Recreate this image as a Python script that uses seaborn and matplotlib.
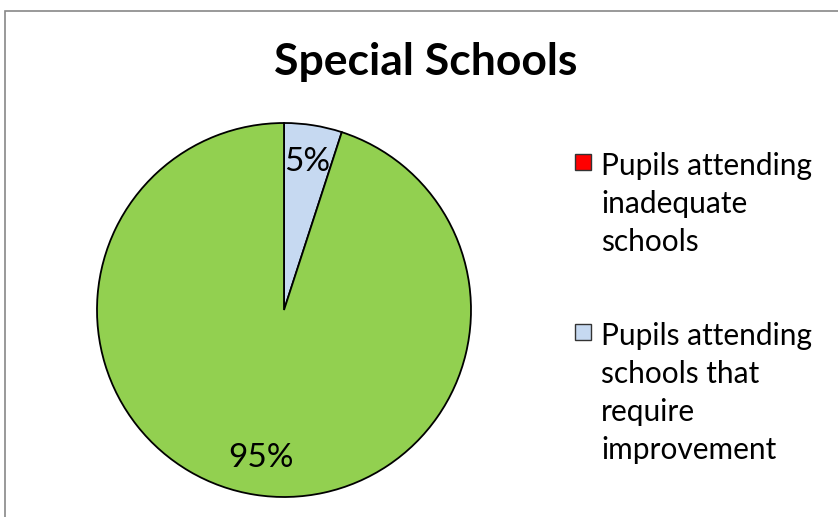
import matplotlib
matplotlib.use("Agg")
import matplotlib.pyplot as plt
from matplotlib.patches import Rectangle
import seaborn as sns

categories = [
    "Pupils attending\ninadequate\nschools",
    "Pupils attending\nschools that\nrequire\nimprovement",
    "Pupils attending\ngood or better\nschools",
]
values = [0, 5, 95]
colors = ["#FF0000", "#C6D9F1", "#92D050"]
title = "Special Schools"

sns.set_theme(style="white")
plt.rcParams["font.family"] = ["Lato", "DejaVu Sans"]
plt.rcParams["text.color"] = "black"

W, H = 838, 517
fig = plt.figure(figsize=(W / 100, H / 100), dpi=100)
fig.patch.set_facecolor("white")

# outer chart border (extends beyond right/bottom of the crop)
fig.patches.append(Rectangle((5 / W, -0.1), 1.2, 1 - 11 / H + 0.1,
                             transform=fig.transFigure, fill=False,
                             edgecolor="#888888", linewidth=1.2))

cx, cy, r = 284, 310, 187
ax = fig.add_axes([(cx - r) / W, (H - cy - r) / H, 2 * r / W, 2 * r / H])

def fmt(p):
    return "" if p < 0.5 else f"{p:.0f}%"

wedges, texts, autotexts = ax.pie(
    values, colors=colors, startangle=90, counterclock=False,
    autopct=fmt, pctdistance=0.8,
    wedgeprops=dict(edgecolor="black", linewidth=1.3),
    textprops=dict(fontsize=24, color="black"),
)
ax.set_xlim(-1, 1)
ax.set_ylim(-1, 1)
ax.set_aspect("equal")
ax.axis("off")

fig.text(426 / W, 1 - 62 / H, title, ha="center", va="center",
         fontsize=32, fontweight="bold", color="black")

# legend (only the first two entries are visible in the cropped chart)
entry_tops = [166, 336]   # centre of first text line, px from top
for i, ytop in enumerate(entry_tops):
    fig.patches.append(Rectangle((575 / W, 1 - (ytop + 4) / H), 16 / W, 16 / H,
                                 transform=fig.transFigure,
                                 facecolor=colors[i], edgecolor="#333333",
                                 linewidth=1))
    fig.text(601 / W, 1 - (ytop - 14) / H, categories[i], ha="left", va="top",
             fontsize=21.5, linespacing=1.44, color="black")

fig.savefig("out.png", dpi=100)
